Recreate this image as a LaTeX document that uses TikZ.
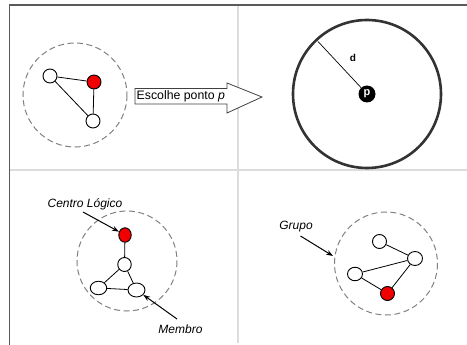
\documentclass[tikz,border=0pt]{standalone}
\usepackage{fontspec}
\setmainfont{Liberation Sans}
\usetikzlibrary{arrows.meta,shapes.arrows}
\definecolor{frame}{HTML}{5A5A5A}
\definecolor{divider}{HTML}{DCDCDC}
\definecolor{dashgray}{HTML}{808080}
\definecolor{nodered}{HTML}{F00000}
\tikzset{
  grp/.style={draw=dashgray,line width=1pt,dash pattern=on 6pt off 3.5pt},
  wnode/.style={ellipse,draw=black,line width=0.9pt,fill=white,minimum width=14pt,minimum height=14pt,inner sep=0pt},
  rnode/.style={wnode,fill=nodered},
  edge/.style={draw=black,line width=0.8pt},
  lbl/.style={font=\fontsize{12}{12}\selectfont\itshape,inner sep=0pt},
  pointer/.style={draw=black,line width=1pt,-{Stealth[length=7pt,width=5pt]}},
}
\usetikzlibrary{shapes.geometric}
\begin{document}
\begin{tikzpicture}[x=1pt,y=-1pt]
\useasboundingbox (0,0) rectangle (467,345);
% frame
\draw[divider,line width=1.2pt] (10,170) -- (467,170);
\draw[divider,line width=1.2pt] (238,5) -- (238,343);
\draw[frame,line width=1.6pt] (467,5) -- (9.5,5) -- (9.5,345);

% top-left group
\draw[grp] (75,95) circle (52);
\node[wnode] (a1) at (50,76) {};
\node[rnode] (a2) at (94,82) {};
\node[wnode] (a3) at (93,121) {};
\draw[edge] (a1) -- (a2);
\draw[edge] (a2) -- (a3);
\draw[edge] (a1) -- (a3);

% arrow
\draw[line width=0.8pt,draw=black!75,fill=white] (135,88.5) -- (227,88.5) -- (227,83) -- (262,97) -- (227,113) -- (227,104) -- (135,104) -- cycle;
\node[font=\fontsize{12.3}{12}\selectfont,anchor=west,inner sep=0pt] (esc) at (136.5,96.5) {Escolhe ponto \textit{p}};

% top-right
\draw[draw=black!80,line width=2.6pt] (367,94) circle (74);
\node[circle,fill=black,minimum size=17pt,inner sep=0pt,text=white,font=\fontsize{11}{11}\selectfont\bfseries] (p) at (367,94) {p};
\coordinate (rim) at (318,41.5);
\draw[line width=0.7pt] (rim) -- (p);
\node[font=\fontsize{10}{10}\selectfont\bfseries,inner sep=0pt] (d) at (353,58) {d};

% bottom-left
\draw[grp] (127,261) circle (50);
\node[rnode,minimum width=12.5pt,minimum height=14.5pt] (b1) at (125,235) {};
\node[wnode,minimum width=13.5pt,minimum height=14pt] (b2) at (124.5,264.5) {};
\node[wnode,minimum width=16.5pt,minimum height=13.5pt] (b3) at (98.5,288) {};
\node[wnode,minimum width=17pt,minimum height=14pt] (b4) at (136.5,290) {};
\draw[edge] (b1) -- (b2);
\draw[edge] (b2) -- (b3);
\draw[edge] (b2) -- (b4);
\draw[edge] (b3) -- (b4);
\node[lbl] (cl) at (85,204) {Centro Lógico};
\draw[pointer] (83,212) -- (b1);
\node[lbl] (mb) at (180.5,329) {Membro};
\draw[pointer] (177,319) -- (b4);

% bottom-right
\draw[grp] (386,263.5) circle (51.5);
\node[wnode] (c1) at (379.5,241.5) {};
\node[wnode,minimum width=15pt] (c2) at (415,258.5) {};
\node[wnode,minimum width=15pt,minimum height=13.5pt] (c3) at (355,274) {};
\node[rnode] (c4) at (387.5,293.5) {};
\draw[edge] (c1) -- (c2);
\draw[edge] (c2) -- (c3);
\draw[edge] (c3) -- (c4);
\draw[edge] (c4) -- (c2);
\node[lbl] (gr) at (296,227) {Grupo};
\coordinate (gtip) at (333,256);
\draw[pointer] (300.5,236) -- (gtip);
\end{tikzpicture}
\end{document}
